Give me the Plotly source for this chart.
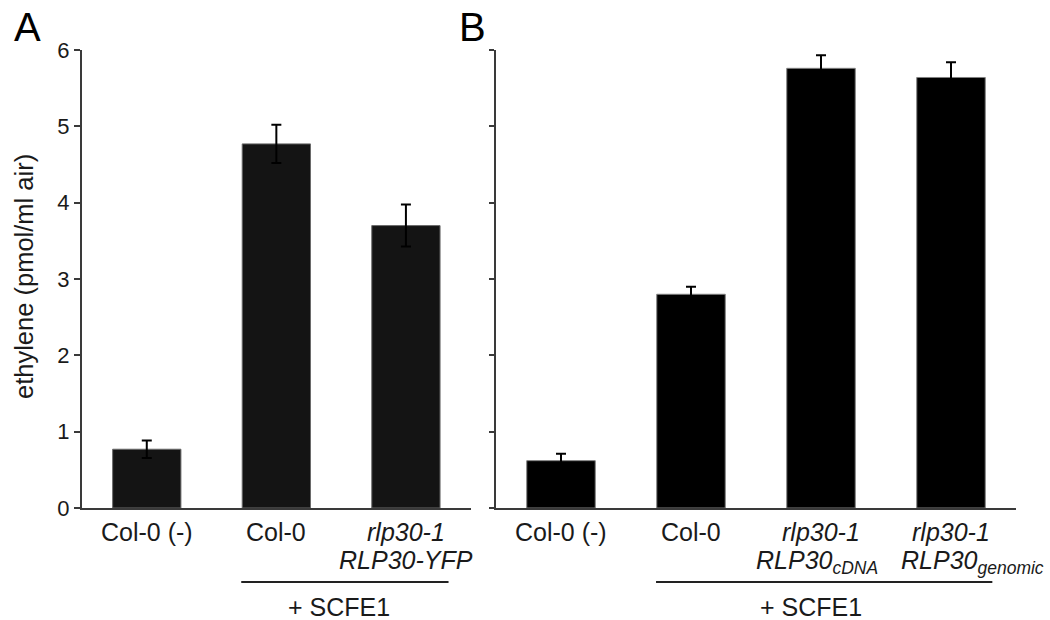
import plotly.graph_objects as go

W, H = 1050, 620

# ---------------- data ----------------
cats_a = ["Col-0 (-)", "Col-0", "rlp30-1 RLP30-YFP"]
vals_a = [0.77, 4.77, 3.70]
errs_a = [0.115, 0.25, 0.275]

cats_b = ["Col-0 (-)", "Col-0", "rlp30-1 RLP30cDNA", "rlp30-1 RLP30genomic"]
vals_b = [0.62, 2.80, 5.76, 5.64]
errs_b = [0.09, 0.10, 0.17, 0.20]

labels_a_line1 = ["Col-0 (-)", "Col-0", "<i>rlp30-1</i>"]
labels_a_line2 = ["", "", "<i>RLP30-YFP</i>"]
labels_b_line1 = ["Col-0 (-)", "Col-0", "<i>rlp30-1</i>", "<i>rlp30-1</i>"]
labels_b_line2 = ["", "", "<i>RLP30<sub>cDNA</sub></i>", "<i>RLP30<sub>genomic</sub></i>"]

y_ticks = [0, 1, 2, 3, 4, 5, 6]
y_title = "ethylene (pmol/ml air)"
treatment = "+ SCFE1"
panel_letters = ["A", "B"]

FONT = "Liberation Sans, Arial, Helvetica, sans-serif"
AX = "#3a3a3a"


def py(p):
    """pixel row -> paper y"""
    return 1 - p / H


def px(p):
    return p / W


fig = go.Figure()

fig.add_trace(go.Bar(
    x=cats_a, y=vals_a, width=0.527,
    marker=dict(color="#141414", line=dict(color="#6a6a6a", width=1)),
    error_y=dict(type="data", array=errs_a, symmetric=True, color="#000000",
                 thickness=2, width=5),
    xaxis="x", yaxis="y", hoverinfo="x+y",
))
fig.add_trace(go.Bar(
    x=cats_b, y=vals_b, width=0.527,
    marker=dict(color="#000000", line=dict(color="#808080", width=1)),
    error_y=dict(type="data", array=errs_b, symmetric=True, color="#000000",
                 thickness=2, width=5),
    xaxis="x2", yaxis="y2", hoverinfo="x+y",
))

ydom = [py(508), py(50)]
common_x = dict(type="category", showline=True, linecolor=AX, linewidth=2,
                ticks="", showticklabels=False, showgrid=False, zeroline=False,
                fixedrange=True, automargin=False)
common_y = dict(range=[0, 6], tickvals=y_ticks, showline=True, linecolor=AX,
                linewidth=2, ticks="outside", tickwidth=2, tickcolor=AX,
                showgrid=False, zeroline=False, fixedrange=True, automargin=False)

fig.update_layout(
    template="none",
    width=W, height=H, autosize=False,
    margin=dict(l=0, r=0, t=0, b=0, pad=0, autoexpand=False),
    plot_bgcolor="white", paper_bgcolor="white",
    showlegend=False,
    font=dict(family=FONT, color="#1a1a1a"),
    xaxis=dict(domain=[px(82), px(470.7)], range=[-0.5, 2.5], anchor="y", **common_x),
    yaxis=dict(domain=ydom, anchor="x", ticklen=6, showticklabels=True,
               tickfont=dict(size=22, family=FONT, color="#1a1a1a"), **common_y),
    xaxis2=dict(domain=[px(496), px(1016)], range=[-0.5, 3.5], anchor="y2", **common_x),
    yaxis2=dict(domain=ydom, anchor="x2", ticklen=5, showticklabels=False, **common_y),
)

ann = []
lab_font = dict(family=FONT, size=25, color="#1a1a1a")


def label(xref, x, ypix, text, **kw):
    d = dict(xref=xref, yref="paper", x=x, y=py(ypix), text=text, showarrow=False,
             xanchor="center", yanchor="top", borderpad=0, font=lab_font)
    d.update(kw)
    return d


# x labels panel A
for c, l1, l2 in zip(cats_a, labels_a_line1, labels_a_line2):
    ann.append(label("x", c, 516.5, l1))
    if l2:
        ann.append(label("x", c, 545, l2))
# x labels panel B
for i, (c, l1, l2) in enumerate(zip(cats_b, labels_b_line1, labels_b_line2)):
    ann.append(label("x2", c, 516.5, l1))
    if l2:
        ann.append(label("x2", c, 545, l2, xshift=(21 if i == 3 else -4)))

# treatment labels
ann.append(label("paper", px(338.7), 591.5, treatment))
ann.append(label("paper", px(810.5), 591.5, treatment))

# y-axis title
ann.append(dict(xref="paper", yref="paper", x=px(24), y=py(277), text=y_title,
                textangle=-90, showarrow=False, xanchor="center", yanchor="middle",
                borderpad=0, font=dict(family=FONT, size=25.5, color="#1a1a1a")))

# panel letters
letter_font = dict(family=FONT, size=40, color="#000000")
ann.append(label("paper", px(27), 4, panel_letters[0], font=letter_font))
ann.append(label("paper", px(472.5), 4, panel_letters[1], font=letter_font))

fig.update_layout(annotations=ann)

# bracket lines under the treated groups
fig.add_shape(type="line", xref="x", yref="paper", x0=0.729, x1=2.329,
              y0=py(582), y1=py(582), line=dict(color="#222222", width=2))
fig.add_shape(type="line", xref="x2", yref="paper", x0=0.731, x1=3.318,
              y0=py(582), y1=py(582), line=dict(color="#222222", width=2))

fig.write_html("out.html")
